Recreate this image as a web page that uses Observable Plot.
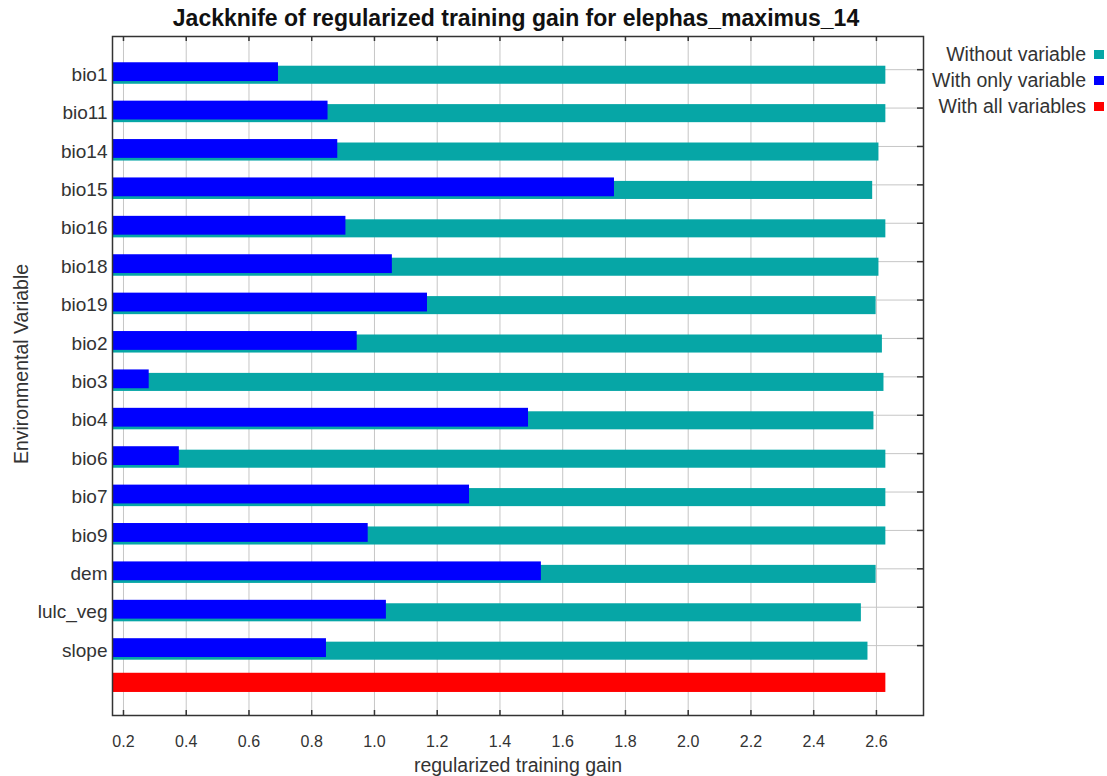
<!DOCTYPE html>
<html><head><meta charset="utf-8">
<script src="https://cdn.jsdelivr.net/npm/d3@7"></script>
<script src="https://cdn.jsdelivr.net/npm/@observablehq/plot@0.6"></script>
<style>
body{margin:0;background:#fff;font-family:"Liberation Sans",Arial,sans-serif;}
#wrap{position:relative;width:1107px;height:776px;overflow:hidden;background:#fff}
#title{position:absolute;left:516px;top:5px;transform:translateX(-50%);white-space:nowrap;font-weight:bold;font-size:23px;color:#111;line-height:26px}
#chart{position:absolute;left:0;top:35px}
.legtxt{position:absolute;right:21px;white-space:nowrap;font-size:19.5px;color:#333;line-height:22px}
.legsq{position:absolute;left:1094px;width:10px;height:9px}
</style>
</head><body>
<div id="wrap">
<div id="title">Jackknife of regularized training gain for elephas_maximus_14</div>
<div id="chart"></div>
</div>
<script>
const variables = ["bio1","bio11","bio14","bio15","bio16","bio18","bio19","bio2","bio3","bio4","bio6","bio7","bio9","dem","lulc_veg","slope"];
const withoutGain = [2.630,2.630,2.608,2.588,2.630,2.608,2.599,2.619,2.624,2.592,2.630,2.630,2.630,2.599,2.552,2.573];
const onlyGain = [0.694,0.852,0.883,1.765,0.909,1.057,1.169,0.945,0.282,1.491,0.378,1.303,0.980,1.532,1.038,0.847];
const allGain = 2.630;
const xTicks = [0.2,0.4,0.6,0.8,1.0,1.2,1.4,1.6,1.8,2.0,2.2,2.4,2.6];
const legendLabels = ["Without variable","With only variable","With all variables"];
const legendColors = ["#06a6a6","#0000ff","#ff0000"];

const rows = variables.map((v,i)=>({variable:v, row:i, without:withoutGain[i], only:onlyGain[i]}));
const rowIdx = rows.map(d=>d.row);
const xMin = 0.165, xMax = 2.75;
const yTop = -0.864, yBottom = 16.82;
const allRow = variables.length - 0.04;
const gridColor = "#c6c6c6";

const chart = Plot.plot({
  width:1107, height:741,
  marginLeft:112, marginRight:184, marginTop:1, marginBottom:61,
  x:{domain:[xMin,xMax]},
  y:{domain:[yTop,yBottom], range:[1,680]},
  style:{fontFamily:"'Liberation Sans', Arial, sans-serif", fontSize:"16px", color:"#333", background:"transparent"},
  marks:[
    Plot.gridX(xTicks,{stroke:gridColor, strokeOpacity:1}),
    Plot.gridY(rowIdx,{stroke:gridColor, strokeOpacity:1}),
    Plot.rect(rows,{x1:()=>xMin, x2:"without", y1:d=>d.row-0.09, y2:d=>d.row+0.38, fill:legendColors[0]}),
    Plot.rect(rows,{x1:()=>xMin, x2:"only", y1:d=>d.row-0.18, y2:d=>d.row+0.31, fill:legendColors[1]}),
    Plot.rect([allGain],{x1:()=>xMin, x2:d=>d, y1:()=>allRow-0.24, y2:()=>allRow+0.26, fill:legendColors[2]}),
    Plot.ruleX(xTicks,{insetTop:674, stroke:"#333", strokeWidth:1.5}),
    Plot.ruleX(xTicks,{insetBottom:674, stroke:"#333", strokeWidth:1.5}),
    Plot.ruleY(rowIdx,{insetLeft:805, stroke:"#333", strokeWidth:1.5}),
    Plot.axisX(xTicks,{tickSize:0, tickPadding:20, tickFormat:d3.format(".1f"), fontSize:16, label:null}),
    Plot.axisY(rowIdx,{tickSize:0, tickPadding:5, tickFormat:i=>variables[i], fontSize:19, dy:5, label:null}),
    Plot.text(["regularized training gain"],{frameAnchor:"bottom", dy:56, fontSize:19.5, fill:"#333"}),
    Plot.text(["Environmental Variable"],{frameAnchor:"left", textAnchor:"middle", dx:-91, dy:-12, rotate:-90, fontSize:19.5, fill:"#333"}),
    Plot.frame({stroke:"#333", strokeWidth:1.5})
  ]
});
document.getElementById("chart").appendChild(chart);

const wrap = document.getElementById("wrap");
const legTops = [43, 69, 95];
legendLabels.forEach((lab,i)=>{
  const t = document.createElement("div");
  t.className = "legtxt"; t.textContent = lab; t.style.top = legTops[i]+"px";
  wrap.appendChild(t);
  const s = document.createElement("div");
  s.className = "legsq"; s.style.background = legendColors[i]; s.style.top = (legTops[i]+7)+"px";
  wrap.appendChild(s);
});
</script>
</body></html>
